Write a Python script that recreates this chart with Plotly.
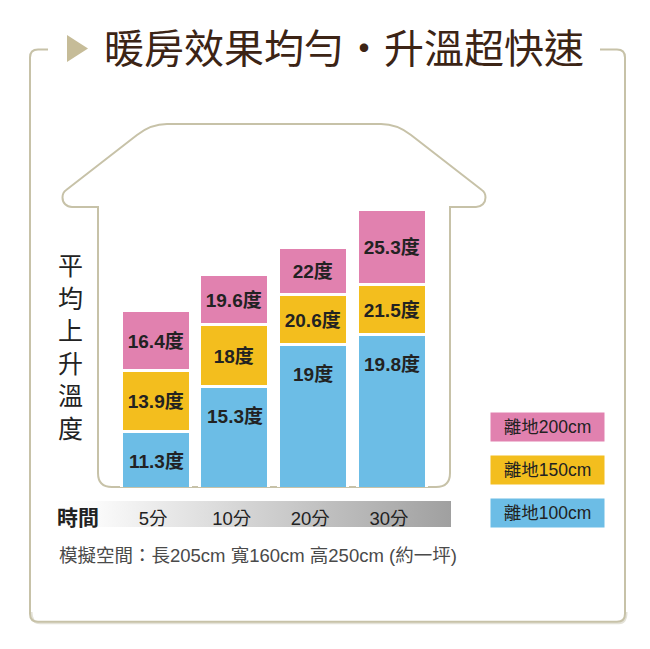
import plotly.graph_objects as go

# ---------------- data ----------------
times = ["5分", "10分", "20分", "30分"]
temp_100 = [11.3, 15.3, 19.0, 19.8]   # 離地100cm
temp_150 = [13.9, 18.0, 20.6, 21.5]   # 離地150cm
temp_200 = [16.4, 19.6, 22.0, 25.3]   # 離地200cm
series_names = ["離地100cm", "離地150cm", "離地200cm"]

title_text = "暖房效果均勻・升溫超快速"
y_title = "平均上升溫度"
x_title = "時間"
note_text = "模擬空間：長205cm 寬160cm 高250cm (約一坪)"

# ---------------- styles ----------------
W, H = 650, 649
C_BLUE = "#6cbde6"
C_YELLOW = "#f3be1e"
C_PINK = "#e181af"
C_LINE = "#c7c2a8"
C_TEXT = "#222222"
CJK = "Noto Sans CJK TC"
LAT = "Liberation Sans, Noto Sans CJK TC"

Y_FLOOR = 6.5      # value at the bottom of the value axis
SEG_PAD = 2.75     # visual spacing added to upper segments (degrees)
PX_PER_DEG = 11.4

def fx(px):
    return px / W

def fy(py):
    return 1 - py / H

def lab(v):
    return f"{v:g}度"

seg_150 = [b - a + SEG_PAD for a, b in zip(temp_100, temp_150)]
seg_200 = [c - b + SEG_PAD for b, c in zip(temp_150, temp_200)]

fig = go.Figure()

# ---- decoration subplot (x / y), pixel-like coordinates ----
fig.add_trace(go.Scatter(
    x=[55, 451, 451, 55, 55], y=[501, 501, 527, 527, 501],
    xaxis="x", yaxis="y", mode="none", fill="toself",
    fillgradient=dict(type="horizontal",
                      colorscale=[[0, "#ffffff"], [0.1, "#fbfbfb"], [1, "#a0a0a0"]]),
    hoverinfo="skip", showlegend=False))

# ---- data subplot (x2 / y2) ----
bar_w = 0.877
lab_font = dict(family=LAT, size=19, color=C_TEXT, weight="bold")
common = dict(xaxis="x2", yaxis="y2", width=bar_w, showlegend=False,
              hoverinfo="skip")
fig.add_trace(go.Bar(x=times, y=temp_100, name=series_names[0],
                     marker=dict(color=C_BLUE, line=dict(color="white", width=3)),
                     **common))
fig.add_trace(go.Bar(x=times, y=seg_150, name=series_names[1],
                     marker=dict(color=C_YELLOW, line=dict(color="white", width=3)),
                     text=[lab(v) for v in temp_150], textposition="inside",
                     insidetextanchor="middle", textangle=0, constraintext="none",
                     textfont=lab_font, **common))
fig.add_trace(go.Bar(x=times, y=seg_200, name=series_names[2],
                     marker=dict(color=C_PINK, line=dict(color="white", width=3)),
                     text=[lab(v) for v in temp_200], textposition="inside",
                     insidetextanchor="middle", textangle=0, constraintext="none",
                     textfont=lab_font, **common))

annotations = []
for t, v in zip(times, temp_100):
    annotations.append(dict(x=t, y=v, xref="x2", yref="y2", yshift=-29,
                            text=lab(v), showarrow=False, font=lab_font))

# title
annotations.append(dict(x=344, y=46, xref="x", yref="y", text=title_text,
                        showarrow=False,
                        font=dict(family=CJK, size=40, color="#3c2415")))
# y title (vertical)
annotations.append(dict(x=70, y=345, xref="x", yref="y",
                        text="<br>".join(list(y_title)), showarrow=False,
                        font=dict(family=CJK, size=25, color=C_TEXT)))
# x title
annotations.append(dict(x=78, y=516, xref="x", yref="y", text=x_title,
                        showarrow=False,
                        font=dict(family=CJK, size=21, color=C_TEXT, weight="bold")))
# note
annotations.append(dict(x=57, y=555, xref="x", yref="y", text=note_text,
                        xanchor="left", showarrow=False,
                        font=dict(family=LAT, size=18.5, color="#4a4a4a")))
# legend boxes
leg_colors = [C_BLUE, C_YELLOW, C_PINK]
leg_y = [513, 469.5, 427]
for name, col, yy in zip(series_names, leg_colors, leg_y):
    annotations.append(dict(x=547.5, y=yy, xref="x", yref="y", text=name,
                            showarrow=False, bgcolor=col, width=113, height=28,
                            borderpad=0,
                            font=dict(family=LAT, size=17.5, color=C_TEXT)))

house = ("M 98,473 L 98,207 L 72,207 "
         "C 66.5,207 62.5,203 62.5,197.5 C 62.5,194 64,191.5 66.2,190 "
         "L 137,135 Q 151,124 167,124 L 381,124 Q 397,124 411,135 "
         "L 481.8,190 C 484,191.5 485.5,194 485.5,197.5 "
         "C 485.5,203 481.5,207 476,207 L 450,207 L 450,473 "
         "Q 450,487 436,487 L 112,487 Q 98,487 98,473 Z")
frame = ("M 48,49.5 L 38,49.5 Q 30,49.5 30,57.5 L 30,613.7 Q 30,621.7 38,621.7 "
         "L 617,621.7 Q 625,621.7 625,613.7 L 625,57.5 Q 625,49.5 617,49.5 L 600,49.5")
frame_shadow = ("M 31.5,612 Q 31.5,623.2 40,623.2 "
                "L 619,623.2 Q 626.5,623.2 626.5,612")

shapes = [
    dict(type="path", path=frame_shadow, xref="x", yref="y", layer="below",
         line=dict(color="#e4e2d8", width=2)),
    dict(type="path", path=frame, xref="x", yref="y", layer="below",
         line=dict(color=C_LINE, width=2)),
    dict(type="path", path="M 67,35 L 67,62 L 88,48.5 Z", xref="x", yref="y",
         layer="below", fillcolor="#c6bc98", line=dict(width=0)),
    dict(type="path", path=house, xref="x", yref="y", layer="below",
         line=dict(color=C_LINE, width=2)),
]

x_lo, x_hi = 116.7, 431.3          # pixel extent of category axis
y_bot, y_top = 487, 130            # pixel extent of value axis

fig.update_layout(
    width=W, height=H, autosize=False,
    margin=dict(l=0, r=0, t=0, b=0),
    paper_bgcolor="white", plot_bgcolor="rgba(0,0,0,0)",
    barmode="stack", bargap=0,
    showlegend=False,
    xaxis=dict(range=[0, W], domain=[0, 1], visible=False, fixedrange=True),
    yaxis=dict(range=[H, 0], domain=[0, 1], visible=False, fixedrange=True),
    xaxis2=dict(type="category", domain=[fx(x_lo), fx(x_hi)], range=[-0.5, 3.5],
                anchor="y2", showgrid=False, showline=False, zeroline=False,
                ticks="", ticklabelstandoff=18, ticklabelshift=-3,
                tickfont=dict(family=LAT, size=18.5, color=C_TEXT)),
    yaxis2=dict(domain=[fy(y_bot), fy(y_top)],
                range=[Y_FLOOR, Y_FLOOR + (y_bot - y_top) / PX_PER_DEG],
                anchor="x2", visible=False, showgrid=False, zeroline=False),
    shapes=shapes,
    annotations=annotations,
)

fig.write_html("out.html")
